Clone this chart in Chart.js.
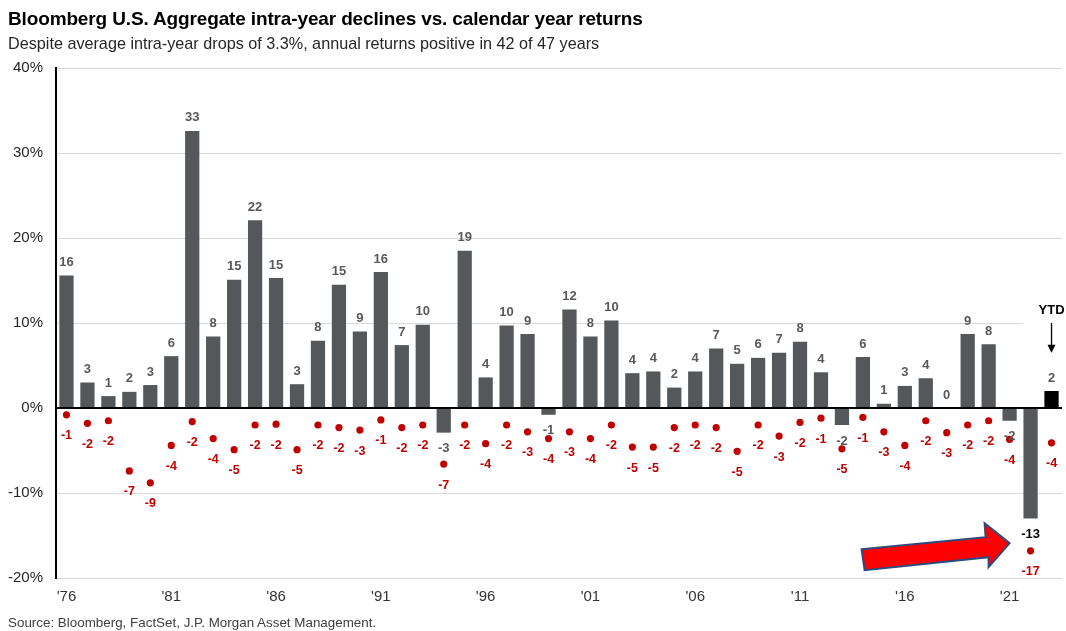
<!DOCTYPE html>
<html><head><meta charset="utf-8">
<script src="https://cdn.jsdelivr.net/npm/chart.js@4"></script>
<style>
html,body{margin:0;padding:0;background:#fff;width:1066px;height:631px;overflow:hidden;font-family:"Liberation Sans",Arial,sans-serif;}
#wrap{position:absolute;left:0;top:0;width:1066px;height:631px;}
.t{position:absolute;white-space:nowrap;line-height:1;}
#title{left:8px;top:9px;font-size:19px;font-weight:bold;color:#000;letter-spacing:-0.14px;}
#sub{left:8px;top:35px;font-size:16.2px;color:#262626;}
#src{left:8px;top:616px;font-size:13.4px;color:#404040;}
</style></head><body>
<div id="wrap"><canvas id="c" width="1066" height="631"></canvas></div>
<div class="t" id="title">Bloomberg U.S. Aggregate intra-year declines vs. calendar year returns</div>
<div class="t" id="sub">Despite average intra-year drops of 3.3%, annual returns positive in 42 of 47 years</div>
<div class="t" id="src">Source: Bloomberg, FactSet, J.P. Morgan Asset Management.</div>
<script>
const years = [1976,1977,1978,1979,1980,1981,1982,1983,1984,1985,
  1986,1987,1988,1989,1990,1991,1992,1993,1994,1995,
  1996,1997,1998,1999,2000,2001,2002,2003,2004,2005,
  2006,2007,2008,2009,2010,2011,2012,2013,2014,2015,
  2016,2017,2018,2019,2020,2021,2022,2023];
const annualReturns = [15.6,3.0,1.4,1.9,2.7,6.1,32.6,8.4,15.1,22.1,
  15.3,2.8,7.9,14.5,9.0,16.0,7.4,9.8,-2.9,18.5,
  3.6,9.7,8.7,-0.8,11.6,8.4,10.3,4.1,4.3,2.4,
  4.3,7.0,5.2,5.9,6.5,7.8,4.2,-2.0,6.0,0.5,
  2.6,3.5,0.0,8.7,7.5,-1.5,-13.0,2.0];
const intraYearDeclines = [-0.8,-1.8,-1.5,-7.4,-8.8,-4.4,-1.6,-3.6,-4.9,-2.0,
  -1.9,-4.9,-2.0,-2.3,-2.6,-1.4,-2.3,-2.0,-6.6,-2.0,
  -4.2,-2.0,-2.8,-3.6,-2.8,-3.6,-2.0,-4.6,-4.6,-2.3,
  -2.0,-2.3,-5.1,-2.0,-3.3,-1.7,-1.2,-4.8,-1.1,-2.8,
  -4.4,-1.5,-2.9,-2.0,-1.5,-3.7,-16.8,-4.1];
const yTicks = [40,30,20,10,0,-10,-20];
const ytdIndex = 47;

const labels = years.map(String);
const fmt = v => String(Math.sign(v) * Math.round(Math.abs(v)));
const barColors = years.map((y,i) => i === ytdIndex ? '#000000' : '#55585a');

const gapPlugin = {
  id: 'gridGap',
  beforeDatasetsDraw(chart) {
    // leave room for the YTD note: the 10% gridline stops before the last categories
    const ctx = chart.ctx, xs = chart.scales.x, ys = chart.scales.y;
    const y = Math.round(ys.getPixelForValue(10)) + 0.5;
    const x0 = xs.getPixelForValue(46) - 8;
    ctx.save();
    ctx.strokeStyle = '#ffffff'; ctx.lineWidth = 3;
    ctx.beginPath(); ctx.moveTo(x0, y); ctx.lineTo(chart.chartArea.right + 2, y); ctx.stroke();
    ctx.restore();
  }
};

const labelPlugin = {
  id: 'labels',
  afterDatasetsDraw(chart) {
    const ctx = chart.ctx;
    const bm = chart.getDatasetMeta(0), pm = chart.getDatasetMeta(1);
    const ys = chart.scales.y;
    ctx.save();
    ctx.textAlign = 'center';
    ctx.textBaseline = 'middle';
    bm.data.forEach((el, i) => {
      const v = annualReturns[i];
      ctx.fillStyle = (i === 46) ? '#000000' : '#595959';
      ctx.font = 'bold 13px "Liberation Sans", Arial, sans-serif';
      const y = v >= 0 ? el.y - 13 : el.y + 16;
      ctx.fillText(fmt(v), el.x, y);
    });
    ctx.fillStyle = '#c00000';
    ctx.font = 'bold 12.5px "Liberation Sans", Arial, sans-serif';
    pm.data.forEach((el, i) => {
      ctx.fillText(fmt(intraYearDeclines[i]), el.x, el.y + 21);
    });
    // YTD marker
    const xe = bm.data[ytdIndex].x;
    ctx.fillStyle = '#000';
    ctx.font = 'bold 13px "Liberation Sans", Arial, sans-serif';
    ctx.fillText('YTD', xe, ys.getPixelForValue(11.5));
    const a0 = ys.getPixelForValue(10.0), a1 = ys.getPixelForValue(6.5);
    ctx.strokeStyle = '#000'; ctx.lineWidth = 1.3;
    ctx.beginPath(); ctx.moveTo(xe, a0); ctx.lineTo(xe, a1 - 6); ctx.stroke();
    ctx.beginPath(); ctx.moveTo(xe - 4, a1 - 8); ctx.lineTo(xe + 4, a1 - 8); ctx.lineTo(xe, a1); ctx.closePath(); ctx.fill();
    // red callout arrow
    const xs = chart.scales.x;
    const tipX = xs.getPixelForValue(45), tipY = ys.getPixelForValue(-15.9);
    const pts = [[-148,6],[-24,-6],[-25,-20],[0,0],[-21,24],[-21,14],[-145,27]];
    ctx.beginPath();
    pts.forEach((p, k) => { const X = tipX + p[0], Y = tipY + p[1]; k ? ctx.lineTo(X, Y) : ctx.moveTo(X, Y); });
    ctx.closePath();
    ctx.fillStyle = '#ff0000'; ctx.fill();
    ctx.strokeStyle = '#2e4a7d'; ctx.lineWidth = 2; ctx.lineJoin = 'miter'; ctx.stroke();
    ctx.restore();
  }
};

new Chart(document.getElementById('c'), {
  type: 'bar',
  data: {
    labels,
    datasets: [
      { type: 'bar', data: annualReturns, backgroundColor: barColors, borderWidth: 0,
        barPercentage: 0.68, categoryPercentage: 1.0, order: 2 },
      { type: 'line', data: intraYearDeclines, showLine: false, pointRadius: 3.6,
        pointBackgroundColor: '#c00000', pointBorderWidth: 0, order: 1 }
    ]
  },
  options: {
    responsive: false, animation: false, devicePixelRatio: 1,
    layout: { padding: { top: 68, right: 2, bottom: 15, left: 0 } },
    plugins: { legend: { display: false }, tooltip: { enabled: false }, title: { display: false } },
    scales: {
      x: {
        offset: true,
        grid: { display: false, drawTicks: false },
        border: { display: false },
        ticks: {
          autoSkip: false, maxRotation: 0, padding: 10,
          color: '#333', font: { size: 15, family: '"Liberation Sans", Arial, sans-serif' },
          callback: (v, i) => ((years[i] - 1976) % 5 === 0 && years[i] <= 2021) ? "'" + String(years[i]).slice(2) : ''
        }
      },
      y: {
        min: -20, max: 40,
        afterFit: s => { s.width = 56; },
        afterBuildTicks: s => { s.ticks = yTicks.map(v => ({ value: v })); },
        grid: {
          drawTicks: false,
          color: c => c.tick && c.tick.value === 0 ? '#000000' : '#d9d9d9',
          lineWidth: c => c.tick && c.tick.value === 0 ? 2 : 1
        },
        border: { display: true, color: '#000', width: 2 },
        ticks: {
          padding: 13, color: '#262626',
          font: { size: 15, family: '"Liberation Sans", Arial, sans-serif' },
          callback: v => v + '%'
        }
      }
    }
  },
  plugins: [gapPlugin, labelPlugin]
});
</script>
</body></html>
